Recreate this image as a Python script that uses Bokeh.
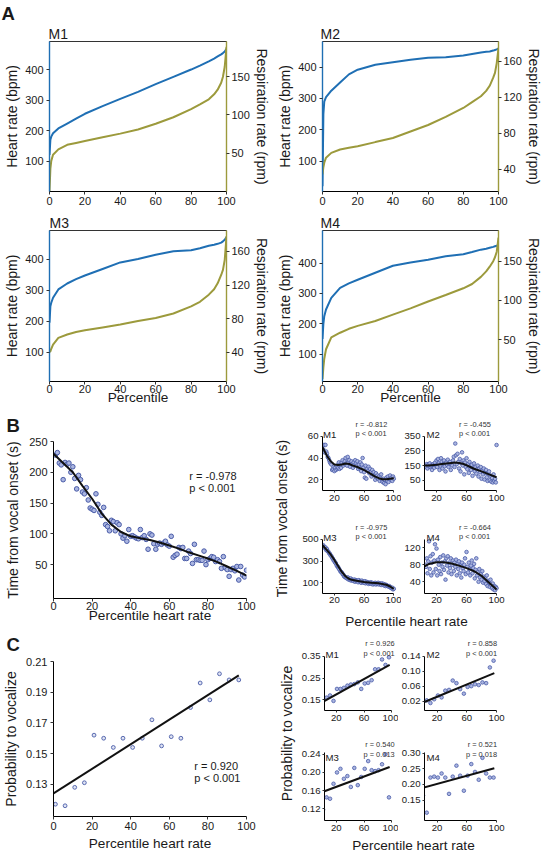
from math import pi
from bokeh.plotting import figure
from bokeh.models import Range1d, LinearAxis, FixedTicker, Label, Title, PrintfTickFormatter
from bokeh.layouts import row, column
from bokeh.embed import file_html
from bokeh.resources import INLINE

FONT = "Liberation Sans"
TXT = "#1a1a1a"
BLUE = "#1f6fb4"
OLIVE = "#9c9a3c"
DOT_LINE = "#4a5ca8"
DOT_FILL = "#aab5e0"

# ---------------- data ----------------
PCT = [0, 0.5, 1, 2, 5, 10, 15, 20, 30, 40, 50, 60, 70, 80, 85, 90, 93, 95, 97, 98, 99, 100]
HR_M1 = [120, 170, 180, 191, 207, 223, 239, 255, 280, 304, 327, 352, 376, 400, 413, 427, 436, 443, 450, 454, 459, 468]
RR_M1 = [0, 30, 40, 48, 55, 61, 63.5, 66, 71, 75.6, 81, 88.5, 97, 107.7, 114, 120.5, 127, 133, 142, 150, 163, 189]
HR_M2 = [20, 250, 290, 304, 325, 351, 377, 392, 408, 416, 424, 430, 432, 437, 442, 447, 449, 450, 453, 455, 457, 460]
RR_M2 = [34, 42, 47, 52.7, 58, 61.8, 63.7, 65.4, 70, 74.5, 81.8, 89, 98, 108, 114.5, 121, 127, 132.7, 141.7, 147, 158, 174.5]
HR_M3 = [195, 248, 259, 275, 302, 321, 335, 347, 368, 389, 400, 414, 425, 428, 435, 443, 446, 449, 453, 457, 462, 471]
RR_M3 = [40, 41, 44, 49, 57, 61, 64, 66, 69.5, 73, 77, 80.8, 86, 94.6, 100, 108.5, 115, 122, 132, 138, 150, 178]
HR_M4 = [150, 200, 225, 247, 285, 318, 333, 345, 368, 391, 402, 411, 422, 429, 436, 444, 447, 450, 453, 455, 457, 460]
RR_M4 = [0, 15, 26, 38, 53, 59, 64, 67.7, 74, 82, 90, 98.7, 107, 115.5, 121, 130, 137, 143, 150, 155, 162, 180]

BL_X = [1, 2, 3, 4, 5, 6, 7, 8, 9, 10, 11, 12, 13, 14, 15, 16, 17, 18, 19, 20,
        21, 22, 23, 24, 25, 26, 27, 28, 29, 30, 31, 32, 33, 34, 35, 36, 37, 38, 39, 40,
        41, 42, 43, 44, 45, 46, 47, 48, 49, 50, 51, 52, 53, 54, 55, 56, 57, 58, 59, 60,
        61, 62, 63, 64, 65, 66, 67, 68, 69, 70, 71, 72, 73, 74, 75, 76, 77, 78, 79, 80,
        81, 82, 83, 84, 85, 86, 87, 88, 89, 90, 91, 92, 93, 94, 95, 96, 97, 98, 99, 100]
BL_Y = [228, 232, 215, 212, 188, 216, 213, 215, 200, 209,
        190, 173, 195, 188, 168, 165, 175, 155, 142, 140,
        138, 165, 148, 135, 130, 143, 115, 112, 105, 122,
        120, 105, 118, 115, 100, 93, 97, 88, 107, 96,
        97, 95, 93, 92, 107, 94, 97, 91, 75, 100,
        98, 84, 75, 83, 85, 83, 85, 88, 82, 80,
        96, 62, 65, 67, 78, 76, 78, 60, 60, 72,
        68, 52, 83, 58, 58, 57, 57, 72, 50, 58,
        60, 63, 62, 55, 58, 55, 44, 63, 45, 42,
        31, 42, 44, 40, 47, 25, 47, 33, 30, 41]
FIT_X = [0, 5, 10, 15, 20, 25, 30, 35, 40, 45, 50, 55, 60, 65, 70, 75, 80, 85, 90, 95, 100]
BL_FIT = [230, 215, 200, 178, 157, 133, 115, 103, 96, 93, 90, 86, 81, 76, 70, 65, 60, 54, 47, 40, 32]

BS_X = [5, 6, 7, 8, 9, 10, 11, 12, 13, 14, 15, 16, 17, 18, 19, 20,
        21, 22, 23, 24, 25, 26, 27, 28, 29, 30, 31, 32, 33, 34, 35, 36, 37, 38, 39, 40,
        41, 42, 43, 44, 45, 46, 47, 48, 49, 50, 51, 52, 53, 54, 55, 56, 57, 58, 59, 60,
        61, 62, 63, 64, 65, 66, 67, 68, 69, 70, 71, 72, 73, 74, 75, 76, 77, 78, 79, 80,
        81, 82, 83, 84, 85, 86, 87, 88, 89, 90, 91, 92, 93, 94, 95, 96, 97, 98, 99, 100]
B1_Y = [48, 52, 45, 52, 46, 44, 41, 40, 38, 36, 35, 34, 29, 30, 32, 28,
        31, 29, 33, 30, 31, 36, 30, 34, 31, 36, 38, 33, 35, 37, 40, 35, 33, 41, 36, 38,
        32, 35, 37, 34, 31, 36, 33, 38, 35, 33, 37, 30, 34, 31, 36, 28, 34, 40, 31, 27,
        22, 33, 21, 30, 28, 32, 26, 30, 27, 23, 29, 25, 27, 24, 20, 26, 22, 24, 21, 23,
        19, 22, 25, 20, 18, 21, 17, 20, 16, 22, 19, 23, 18, 21, 24, 20, 22, 19, 23, 21]
B1_FITX = [4, 10, 15, 20, 25, 30, 35, 40, 45, 50, 55, 60, 65, 70, 75, 80, 85, 90, 95, 100]
B1_FIT = [50, 42, 37, 34, 33.5, 34, 35, 34.5, 33, 32, 30.5, 29, 27, 25, 23, 21.5, 20.5, 20.5, 21, 21.5]
B2_Y = [150, 140, 160, 130, 155, 145, 165, 140, 150, 120, 155, 160, 135, 170, 150, 185,
        140, 195, 165, 120, 150, 200, 175, 130, 160, 185, 145, 110, 170, 155, 190, 140, 165, 175, 120, 160,
        150, 185, 210, 140, 300, 220, 160, 230, 175, 130, 195, 110, 165, 240, 150, 185, 90, 170, 140, 200,
        125, 160, 100, 175, 145, 120, 155, 80, 135, 165, 110, 140, 95, 125, 150, 75, 130, 105, 140, 60,
        115, 90, 130, 55, 100, 120, 70, 45, 95, 110, 50, 80, 40, 65, 35, 90, 45, 60, 35, 290]
B2_FITX = [4, 10, 20, 30, 40, 45, 50, 55, 60, 65, 70, 80, 90, 100]
B2_FIT = [150, 150, 155, 162, 168, 170, 168, 162, 152, 140, 128, 110, 90, 70]
B3_Y = [445, 430, 420, 425, 400, 410, 390, 385, 370, 365, 350, 345, 330, 320, 305, 300,
        285, 280, 260, 250, 245, 230, 220, 205, 200, 195, 180, 175, 160, 155, 150, 145, 140, 150, 130, 135,
        125, 140, 120, 130, 125, 115, 130, 110, 125, 115, 120, 105, 125, 110, 115, 100, 120, 105, 110, 100,
        115, 95, 110, 100, 105, 90, 100, 95, 105, 90, 100, 85, 95, 90, 100, 85, 95, 90, 100, 85,
        95, 90, 80, 95, 85, 90, 75, 85, 70, 80, 75, 70, 65, 70, 60, 55, 50, 55, 40, 45]
B3_FITX = [4, 10, 15, 20, 25, 30, 35, 40, 45, 50, 60, 70, 80, 90, 95, 100]
B3_FIT = [445, 400, 360, 310, 255, 200, 160, 135, 125, 118, 108, 100, 95, 82, 66, 45]
B4_Y = [80, 75, 95, 60, 88, 135, 70, 100, 55, 85, 105, 62, 90, 128, 70, 118,
        55, 92, 80, 65, 98, 58, 85, 75, 102, 68, 88, 45, 95, 78, 100, 62, 85, 72, 95, 58,
        80, 90, 65, 85, 75, 92, 55, 82, 70, 88, 60, 78, 50, 85, 72, 65, 80, 95, 58, 110,
        75, 62, 85, 70, 55, 78, 90, 60, 72, 82, 48, 68, 95, 55, 62, 40, 70, 50, 58, 45,
        65, 38, 52, 42, 48, 35, 55, 30, 42, 38, 28, 45, 32, 25, 36, 22, 30, 20, 28, 25]
B4_FITX = [4, 10, 20, 30, 40, 50, 60, 66, 72, 80, 85, 90, 95, 100]
B4_FIT = [76, 82, 86, 86, 83, 78, 72, 68, 63, 54, 46, 38, 30, 22]

CP_X = [1, 6, 11, 16, 21, 26, 31, 36, 41, 46, 51, 56, 61, 66, 71, 76, 81, 86, 91, 96]
CL_Y = [0.117, 0.116, 0.128, 0.131, 0.162, 0.160, 0.154, 0.160, 0.154, 0.160,
        0.172, 0.155, 0.161, 0.160, 0.180, 0.196, 0.185, 0.202, 0.198, 0.198]
CL_FITX = [0, 96]
CL_FIT = [0.124, 0.201]
C1_Y = [0.165, 0.160, 0.170, 0.145, 0.200, 0.200, 0.205, 0.215, 0.220, 0.222,
        0.230, 0.200, 0.225, 0.228, 0.240, 0.290, 0.290, 0.335, 0.310, 0.345]
C1_FIT = [0.143, 0.310]
C2_Y = [0.020, 0.022, 0.015, 0.025, 0.035, 0.030, 0.048, 0.050, 0.075, 0.068,
        0.052, 0.040, 0.058, 0.060, 0.065, 0.063, 0.070, 0.068, 0.110, 0.128]
C2_FIT = [0.017, 0.095]
C3_Y = [0.118, 0.145, 0.142, 0.175, 0.200, 0.208, 0.186, 0.192, 0.168, 0.210,
        0.172, 0.190, 0.208, 0.225, 0.205, 0.203, 0.205, 0.218, 0.240, 0.145]
C3_FIT = [0.158, 0.212]
C4_Y = [0.165, 0.110, 0.222, 0.225, 0.222, 0.235, 0.222, 0.170, 0.225, 0.260,
        0.228, 0.180, 0.228, 0.265, 0.240, 0.215, 0.285, 0.235, 0.222, 0.222]
C4_FIT = [0.190, 0.252]
CS_FITX = [2, 97]


def R(v):
    return int(round(v))


def F(v):
    return f"{v:.1f}px"


class Fig:
    """A figure whose canvas and plotting frame are placed at given pixel boxes."""

    def __init__(self, canvas, frame, xr, yr, axis_box=None):
        cx0, cx1, cy0, cy1 = canvas
        fx0, fx1, fy0, fy1 = frame
        self.bounded = axis_box is not None
        if axis_box is None:
            axis_box = (R(fx0), R(fx1), R(fy0), R(fy1))
        ax0, ax1, ay0, ay1 = axis_box
        kx = (xr[1] - xr[0]) / (ax1 - ax0)
        ky = (yr[1] - yr[0]) / (ay1 - ay0)
        fxr = (xr[0] - (ax0 - R(fx0)) * kx, xr[1] + (R(fx1) - ax1) * kx)
        fyr = (yr[0] - (R(fy1) - ay1) * ky, yr[1] + (ay0 - R(fy0)) * ky)
        self.fb = (R(fx0), R(fx1), R(fy0), R(fy1))
        self.fxr, self.fyr = fxr, fyr
        self.xr, self.yr = xr, yr
        p = figure(width=R(cx1) - R(cx0), height=R(cy1) - R(cy0),
                   x_range=Range1d(*fxr), y_range=Range1d(*fyr),
                   x_axis_location=None, y_axis_location=None,
                   toolbar_location=None, output_backend="svg",
                   min_border_left=R(fx0) - R(cx0), min_border_right=R(cx1) - R(fx1),
                   min_border_top=R(fy0) - R(cy0), min_border_bottom=R(cy1) - R(fy1))
        p.xgrid.visible = False
        p.ygrid.visible = False
        p.outline_line_color = None
        p.background_fill_color = "white"
        p.border_fill_color = "white"
        self.p = p

    def dx(self, rx):
        a, b = self.fb[0], self.fb[1]
        return self.fxr[0] + (rx - a) / (b - a) * (self.fxr[1] - self.fxr[0])

    def dy(self, ry):
        a, b = self.fb[2], self.fb[3]
        return self.fyr[1] - (ry - a) / (b - a) * (self.fyr[1] - self.fyr[0])

    def label(self, rx, ry, text, size, align="left", baseline="alphabetic", color=TXT):
        self.p.add_layout(Label(x=self.dx(rx), y=self.dy(ry), text=text,
                                text_font=FONT, text_font_size=F(size),
                                text_align=align, text_baseline=baseline,
                                text_color=color))

    def title(self, text, size, offset, standoff=0, bold=False):
        self.p.add_layout(Title(text=text, align="left", offset=offset, standoff=standoff,
                                text_font=FONT, text_font_size=F(size), text_color=TXT,
                                text_font_style="bold" if bold else "normal"), "above")

    def axis(self, side, ticks, size, line_color="black", tick_out=3, standoff=3,
             range_name=None, fmt=None, title=None, title_standoff=2, line_width=1,
             title_size=14):
        kw = {"y_range_name": range_name} if range_name else {}
        ax = LinearAxis(ticker=FixedTicker(ticks=ticks), **kw)
        ax.axis_line_color = line_color
        ax.axis_line_width = line_width
        ax.major_tick_line_color = "#333333"
        ax.major_tick_out = tick_out
        ax.major_tick_in = 0
        ax.minor_tick_line_color = None
        ax.major_label_text_font = FONT
        ax.major_label_text_font_size = F(size)
        ax.major_label_text_color = TXT
        ax.major_label_standoff = standoff
        if self.bounded:
            ax.bounds = self.xr if side in ("below", "above") else self.yr
        if fmt:
            ax.formatter = PrintfTickFormatter(format=fmt)
        if title:
            ax.axis_label = title
            ax.axis_label_text_font = FONT
            ax.axis_label_text_font_size = F(title_size)
            ax.axis_label_text_font_style = "normal"
            ax.axis_label_text_color = TXT
            ax.axis_label_standoff = title_standoff
        self.p.add_layout(ax, side)


class Strip:
    """A blank canvas that only carries free text, laid out in page pixels."""

    def __init__(self, canvas):
        cx0, cx1, cy0, cy1 = canvas
        p = figure(width=R(cx1) - R(cx0), height=R(cy1) - R(cy0),
                   x_range=Range1d(R(cx0), R(cx1)), y_range=Range1d(R(cy1), R(cy0)),
                   x_axis_location=None, y_axis_location=None,
                   toolbar_location=None, output_backend="svg",
                   min_border_left=0, min_border_right=0, min_border_top=0, min_border_bottom=0)
        p.xgrid.visible = False
        p.ygrid.visible = False
        p.outline_line_color = None
        p.border_fill_color = "white"
        p.background_fill_color = "white"
        self.p = p

    def label(self, rx, ry, text, size, align="center", angle=0.0):
        self.p.add_layout(Label(x=rx, y=ry, text=text, text_font=FONT,
                                text_font_size=F(size), text_align=align,
                                text_baseline="middle", text_color=TXT, angle=angle))


def a_panel(canvas, frame, hr_rng, rr_rng, hr_ticks, rr_ticks, hr, rr, xstand, name, name_off,
            xlabel=False, letter=None):
    f = Fig(canvas, frame, (0, 100), hr_rng)
    p = f.p
    p.outline_line_color = "#333333"
    p.extra_y_ranges = {"rr": Range1d(*rr_rng)}
    if xlabel:
        f.axis("below", [0, 20, 40, 60, 80, 100], 11, standoff=xstand, title="Percentile",
               title_standoff=-6, title_size=13.6)
    else:
        f.axis("below", [0, 20, 40, 60, 80, 100], 11, standoff=xstand)
    f.axis("left", hr_ticks, 11, line_color=BLUE, title="Heart rate (bpm)", title_standoff=2,
           line_width=1.4)
    f.axis("right", rr_ticks, 11, line_color=OLIVE, range_name="rr", standoff=2,
           title="Respiration rate (rpm)", title_standoff=1, line_width=1.4)
    p.line(PCT, hr, line_color=BLUE, line_width=2)
    p.line(PCT, rr, line_color=OLIVE, line_width=2, y_range_name="rr")
    f.title(name, 14, name_off)
    if letter:
        f.title(letter, 18.5, -48, bold=True)
    return f


# ---------------- A ----------------
M1 = a_panel((0, 272, 0, 212), (49, 231, 38, 191), (0, 492), (0, 196), [100, 200, 300, 400],
             [50, 100, 150], HR_M1, RR_M1, 2, "M1", -1, letter="A")
M2 = a_panel((272, 544, 0, 212), (322, 503, 38, 191), (3, 482), (15, 182), [100, 200, 300, 400],
             [40, 80, 120, 160], HR_M2, RR_M2, 2, "M2", -2)
M3 = a_panel((0, 272, 212, 407), (49, 230.5, 230, 382), (5, 492), (5, 185), [100, 200, 300, 400],
             [40, 80, 120, 160], HR_M3, RR_M3, 0, "M3", 0, xlabel=True)
M4 = a_panel((272, 544, 212, 407), (322, 503, 230, 382), (10, 507), (-3, 189), [100, 200, 300, 400],
             [50, 100, 150], HR_M4, RR_M4, 0, "M4", -2, xlabel=True)

# ---------------- B (left) ----------------
BL = Fig((0, 268, 407, 625), (49, 246.7, 439.3, 599.3), (0, 100), (-5, 250))
BL.axis("below", [0, 20, 40, 60, 80, 100], 11, standoff=0, title="Percentile heart rate",
        title_standoff=-5, title_size=13.6)
BL.axis("left", [50, 100, 150, 200, 250], 11, title="Time from vocal onset (s)", title_standoff=5)
BL.p.scatter(BL_X, BL_Y, size=4.6, line_color=DOT_LINE, fill_color=DOT_FILL, line_width=1)
BL.p.line(FIT_X, BL_FIT, line_color="#111111", line_width=2)
BL.label(188.3, 474, "r = -0.978", 11)
BL.label(188.3, 486, "p < 0.001", 11)
BL.title("B", 18.5, -47, standoff=11, bold=True)

# ---------------- C (left) ----------------
CL = Fig((0, 268, 625, 853), (49, 245.7, 659.5, 817), (0, 100), (0.109, 0.21))
CL.axis("below", [0, 20, 40, 60, 80, 100], 11, standoff=2, title="Percentile heart rate",
        title_standoff=3, title_size=13.6)
CL.axis("left", [0.13, 0.15, 0.17, 0.19, 0.21], 11, fmt="%.2f",
        title="Probability to vocalize", title_standoff=4)
CL.p.scatter(CP_X, CL_Y, size=3.8, line_color=DOT_LINE, fill_color="#dfe3f3", line_width=0.9)
CL.p.line(CL_FITX, CL_FIT, line_color="#111111", line_width=2)
CL.label(192.7, 765.7, "r = 0.920", 11)
CL.label(192.7, 777.5, "p < 0.001", 11)
CL.title("C", 18.5, -47, standoff=13, bold=True)

# ---------------- shared y labels of the small panels ----------------
SBY = Strip((268, 298, 407, 615))
SBY.label(281.5, 518, "Time from vocal onset (s)", 14, angle=pi / 2)
SCY = Strip((268, 298, 615, 853))
SCY.label(286.7, 733, "Probability to vocalize", 14, angle=pi / 2)


def small(canvas, frame, axis_box, xr, yr, yticks, xs, ys, fx, fy, name, name_pos, stats,
          stats_x, stats_y, stats_align, fmt=None, xstand=2):
    f = Fig(canvas, frame, xr, yr, axis_box=axis_box)
    f.axis("below", [20, 60, 100], 9.6, tick_out=2, standoff=xstand)
    f.axis("left", yticks, 9.6, tick_out=2, standoff=2, fmt=fmt)
    f.p.scatter(xs, ys, size=3.6, line_color=DOT_LINE, fill_color=DOT_FILL, line_width=0.8)
    f.p.line(fx, fy, line_color="#111111", line_width=2)
    f.label(name_pos[0], name_pos[1], name, 9.6)
    f.label(stats_x, stats_y[0], stats[0], 7.4, align=stats_align, color="#333333")
    f.label(stats_x, stats_y[1], stats[1], 7.4, align=stats_align, color="#333333")
    return f


B1 = small((298, 401, 407, 510), (322, 399, 407, 490), (322, 393.3, 435.7, 490), (4, 100), (10.2, 60),
           [20, 40, 60], BS_X, B1_Y, B1_FITX, B1_FIT, "M1", (322.5, 434.3),
           ("r = -0.812", "p < 0.001"), 355, (423.5, 433.3), "left")
B2 = small((401, 544, 407, 510), (423, 500, 407, 490), (423, 496, 435.7, 490), (4, 100), (-20, 350),
           [50, 150, 250, 350], BS_X, B2_Y, B2_FITX, B2_FIT, "M2", (425, 434.3),
           ("r = -0.455", "p < 0.001"), 458, (423.5, 433.3), "left")
B3 = small((298, 401, 510, 607), (322, 399, 510, 593), (322, 393.3, 538.7, 593), (4, 100), (2, 500),
           [100, 300, 500], BS_X, B3_Y, B3_FITX, B3_FIT, "M3", (322.8, 537.3),
           ("r = -0.975", "p < 0.001"), 355, (526.5, 536.3), "left", xstand=1)
B4 = small((401, 544, 510, 607), (423, 500, 510, 593), (423, 496, 538.7, 593), (4, 100), (12.5, 140),
           [40, 80, 120], BS_X, B4_Y, B4_FITX, B4_FIT, "M4", (425, 537.3),
           ("r = -0.664", "p < 0.001"), 458, (526.5, 536.3), "left", xstand=1)
SBX = Strip((298, 544, 607, 629))
SBX.label(406, 620.5, "Percentile heart rate", 13.6)

C1 = small((298, 398, 629, 732), (321, 397, 629, 710), (321, 391, 655.7, 710), (3, 100), (0.101, 0.35),
           [0.15, 0.25, 0.35], CP_X, C1_Y, CS_FITX, C1_FIT, "M1", (322, 654.3),
           ("r = 0.926", "p < 0.001"), 394, (643.3, 652.7), "right", fmt="%.2f")
C2 = small((398, 544, 629, 732), (423, 500, 629, 710), (423, 496, 655.7, 710), (3, 100), (-0.005, 0.14),
           [0.02, 0.06, 0.10, 0.14], CP_X, C2_Y, CS_FITX, C2_FIT, "M2", (425, 654.3),
           ("r = 0.858", "p < 0.001"), 496.5, (643.3, 652.7), "right", fmt="%.2f")
C3 = small((298, 398, 732, 835), (321, 397, 732, 820), (321, 391, 752, 820), (3, 100), (0.094, 0.244),
           [0.12, 0.16, 0.20, 0.24], CP_X, C3_Y, CS_FITX, C3_FIT, "M3", (322, 757),
           ("r = 0.540", "p = 0.013"), 394, (744, 753.7), "right", fmt="%.2f")
C4 = small((398, 544, 732, 835), (423, 500, 732, 820), (423, 496, 752, 820), (3, 100), (0.085, 0.302),
           [0.15, 0.20, 0.25, 0.30], CP_X, C4_Y, CS_FITX, C4_FIT, "M4", (425, 757),
           ("r = 0.521", "p = 0.018"), 496.5, (744, 753.7), "right", fmt="%.2f")
SCX = Strip((298, 544, 835, 853))
SCX.label(413, 844.5, "Percentile heart rate", 13.6)

layout = column(
    row(M1.p, M2.p),
    row(M3.p, M4.p),
    row(
        column(BL.p, CL.p),
        column(SBY.p, SCY.p),
        column(row(B1.p, B2.p), row(B3.p, B4.p), SBX.p, row(C1.p, C2.p), row(C3.p, C4.p), SCX.p),
    ),
)

open("out.html", "w").write(file_html(layout, INLINE, "Heart rate figure"))
